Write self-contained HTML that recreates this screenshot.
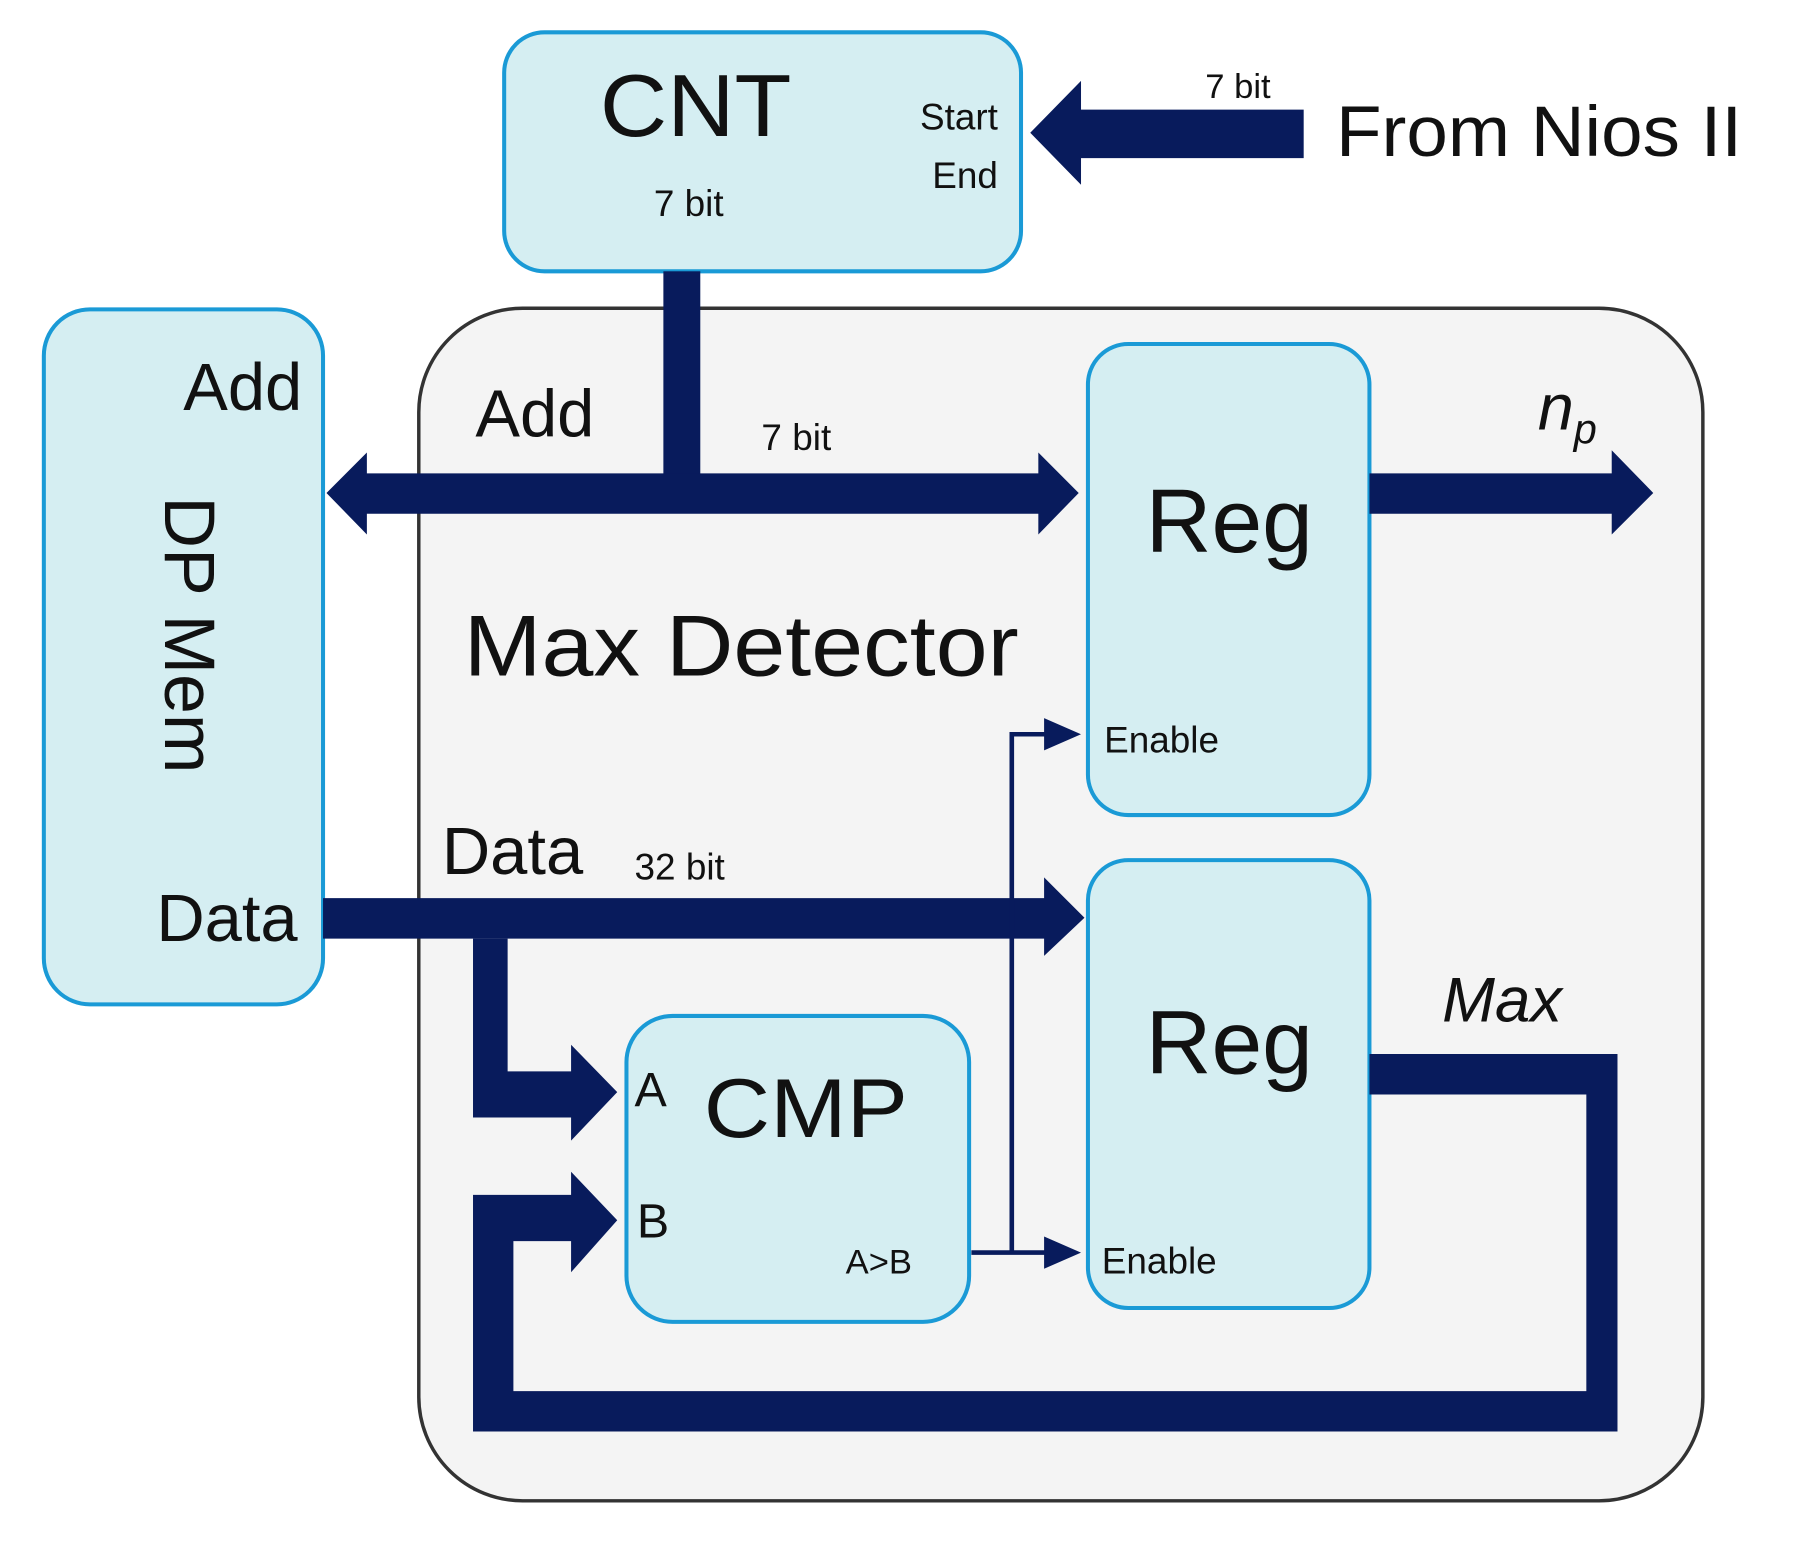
<!DOCTYPE html>
<html><head><meta charset="utf-8"><style>
html,body{margin:0;padding:0;background:#fff;}
svg{display:block;}
text{font-family:"Liberation Sans",Arial,sans-serif;fill:#111;}
</style></head><body>
<svg width="1809" height="1547" viewBox="0 0 1568 1340" preserveAspectRatio="none" xmlns="http://www.w3.org/2000/svg">
<rect width="1568" height="1340" fill="#fff"/>
<rect x="363" y="267" width="1113" height="1033" rx="90" fill="#f4f4f4" stroke="#333" stroke-width="3"/>
<rect x="437" y="28" width="448" height="207" rx="35" fill="#d5eef2" stroke="#1a9ad6" stroke-width="3.5"/>
<text x="520" y="118" font-size="76" textLength="166" lengthAdjust="spacingAndGlyphs">CNT</text>
<text x="597" y="187" font-size="32" text-anchor="middle">7 bit</text>
<text x="865" y="112" font-size="32" text-anchor="end">Start</text>
<text x="865" y="163" font-size="32" text-anchor="end">End</text>
<polygon points="893,115 937,70 937,95 1130,95 1130,137 937,137 937,160" fill="#081b5c"/>
<text x="1073" y="85" font-size="30" text-anchor="middle">7 bit</text>
<text x="1158" y="135" font-size="62" textLength="352" lengthAdjust="spacingAndGlyphs">From Nios II</text>
<rect x="38" y="268" width="242" height="602" rx="40" fill="#d5eef2" stroke="#1a9ad6" stroke-width="3.5"/>
<text x="262" y="355" font-size="58" text-anchor="end">Add</text>
<text x="258" y="815" font-size="58" text-anchor="end">Data</text>
<text transform="translate(143,550) rotate(90)" font-size="62" text-anchor="middle">DP Mem</text>
<rect x="575" y="235" width="32" height="180" fill="#081b5c"/>
<polygon points="283,427 318,392 318,410 900,410 900,392 935,427 900,463 900,445 318,445 318,463" fill="#081b5c"/>
<text x="412" y="378" font-size="58">Add</text>
<text x="660" y="390" font-size="32">7 bit</text>
<rect x="943" y="298" width="244" height="408" rx="35" fill="#d5eef2" stroke="#1a9ad6" stroke-width="3.5"/>
<text x="993" y="478" font-size="78" textLength="145" lengthAdjust="spacingAndGlyphs">Reg</text>
<text x="957" y="652" font-size="32">Enable</text>
<polygon points="1187,410 1397,410 1397,390 1433,427 1397,463 1397,445 1187,445" fill="#081b5c"/>
<text x="1333" y="372" font-size="56" font-style="italic">n<tspan font-size="36" dy="12">p</tspan></text>
<text x="402" y="585" font-size="75" textLength="481" lengthAdjust="spacingAndGlyphs">Max Detector</text>
<text x="383" y="757" font-size="58">Data</text>
<text x="550" y="762" font-size="32">32 bit</text>
<polygon points="280,778 905,778 905,760 940,795 905,828 905,813 280,813" fill="#081b5c"/>
<rect x="943" y="745" width="244" height="388" rx="35" fill="#d5eef2" stroke="#1a9ad6" stroke-width="3.5"/>
<text x="993" y="930" font-size="78" textLength="145" lengthAdjust="spacingAndGlyphs">Reg</text>
<text x="955" y="1103" font-size="32">Enable</text>
<polygon points="410,813 440,813 440,928 495,928 495,905 535,946 495,988 495,968 410,968" fill="#081b5c"/>
<polygon points="1187,913 1402,913 1402,1240 410,1240 410,1035 495,1035 495,1015 535,1057 495,1102 495,1075 445,1075 445,1205 1375,1205 1375,948 1187,948" fill="#081b5c"/>
<text x="1250" y="885" font-size="55" font-style="italic">Max</text>
<rect x="543" y="880" width="297" height="265" rx="40" fill="#d5eef2" stroke="#1a9ad6" stroke-width="3.5"/>
<text x="550" y="958" font-size="42">A</text>
<text x="610" y="985" font-size="72" textLength="177" lengthAdjust="spacingAndGlyphs">CMP</text>
<text x="552" y="1072" font-size="42">B</text>
<text x="733" y="1103" font-size="30">A&gt;B</text>
<path d="M842,1085 H910 M877,1085 V636 H910" stroke="#081b5c" stroke-width="4" fill="none"/>
<polygon points="905,1071 937,1085 905,1099" fill="#081b5c"/>
<polygon points="905,622 937,636 905,650" fill="#081b5c"/>
</svg>
</body></html>
